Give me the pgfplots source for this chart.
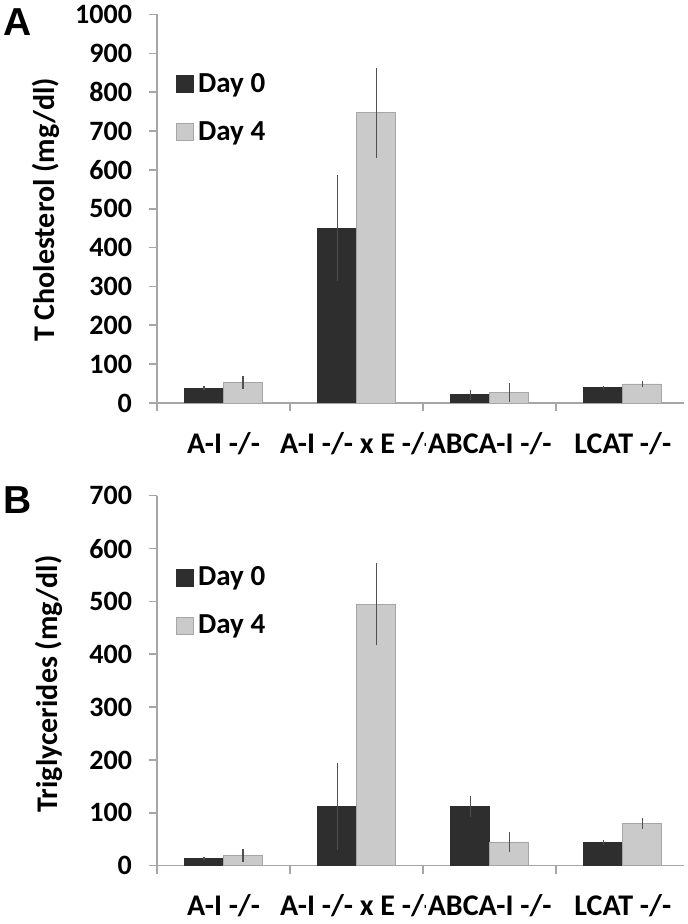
\documentclass[border=0pt]{standalone}
\usepackage{fontspec}
\setmainfont{Carlito}
\newfontfamily\letterfont{Liberation Sans}
\usepackage{pgfplots}
\pgfplotsset{compat=1.18}
\definecolor{dayzero}{HTML}{2E2E2E}
\definecolor{dayfour}{HTML}{CACACA}
\definecolor{axisgray}{HTML}{A6A6A6}
\definecolor{errgray}{HTML}{505050}

\pgfplotsset{
  panel/.style={
    scale only axis, width=263.5pt, anchor=south west,
    xmin=-0.5, xmax=3.46, ymin=0,
    axis x line*=bottom, axis y line*=left,
    axis line style={axisgray, line width=0.8pt},
    tick style={axisgray, line width=0.8pt},
    tick align=outside, major tick length=4pt,
    ybar=0pt, bar width=19.5pt,
    xtick={-0.5,0.5,1.5,2.5}, xticklabels={},
    extra x ticks={0,1,2,3},
    extra x tick labels={A-I -/-, A-I -/- x E -/-, ABCA-I -/-, LCAT -/-},
    extra x tick style={major tick length=0pt, tick style={draw=none}},
    xticklabel style={font=\fontsize{15}{18}\selectfont\bfseries,
      fill=white, inner xsep=1pt, yshift=-11pt},
    yticklabel style={font=\fontsize{14}{16}\selectfont\bfseries, xshift=-5pt},
    /pgf/number format/assume math mode=true,
    /pgf/number format/1000 sep={},
    ylabel style={anchor=center, font=\fontsize{15}{18}\selectfont\bfseries},
    legend style={draw=none, fill=none, anchor=north west, inner sep=0pt,
      font=\fontsize{14.5}{17}\selectfont\bfseries, row sep=9pt,
      /tikz/every even column/.append style={column sep=3pt}},
    legend cell align=left,
    legend image code/.code={\fill[##1] (0pt,-4.25pt) rectangle (8.5pt,4.25pt);},
  },
  err/.style={error bars/.cd, y dir=both, y explicit, error mark=none,
    error bar style={errgray, line width=0.6pt}},
}

\begin{document}
\begin{tikzpicture}
\path[use as bounding box] (0,0) rectangle (344pt,462pt);

\node[font=\letterfont\bfseries\fontsize{19.5}{22}\selectfont] at (9pt,451pt) {A};
\node[font=\letterfont\bfseries\fontsize{19.5}{22}\selectfont] at (9pt,212pt) {B};

% panel A: total cholesterol
\begin{axis}[panel, at={(78.5pt,260.5pt)}, height=194.25pt,
  ymax=1000, ytick distance=100,
  ylabel={T Cholesterol (mg/dl)},
  ylabel style={at={(axis description cs:-0.21,0.497)}},
  legend style={at={(0.036,0.86)}},
]
\addplot[fill=dayzero, draw=dayzero, err] coordinates {
  (0,38) +- (0,5)
  (1,450) +- (0,137)
  (2,21) +- (0,13)
  (3,40) +- (0,5)
};
\addlegendentry{Day 0}
\addplot[fill=dayfour, draw=gray!70, err] coordinates {
  (0,53) +- (0,16)
  (1,747) +- (0,116)
  (2,27) +- (0,25)
  (3,49) +- (0,7)
};
\addlegendentry{Day 4}
\end{axis}

% panel B: triglycerides
\begin{axis}[panel, at={(78.5pt,29.15pt)}, height=185pt,
  ymax=700, ytick distance=100,
  ylabel={Triglycerides (mg/dl)},
  ylabel style={at={(axis description cs:-0.205,0.491)}},
  legend style={at={(0.036,0.82)}},
]
\addplot[fill=dayzero, draw=dayzero, err] coordinates {
  (0,14) +- (0,3)
  (1,112) +- (0,82)
  (2,112) +- (0,19)
  (3,44) +- (0,5)
};
\addlegendentry{Day 0}
\addplot[fill=dayfour, draw=gray!70, err] coordinates {
  (0,19) +- (0,12)
  (1,495) +- (0,78)
  (2,45) +- (0,19)
  (3,80) +- (0,10)
};
\addlegendentry{Day 4}
\end{axis}
\end{tikzpicture}
\end{document}
